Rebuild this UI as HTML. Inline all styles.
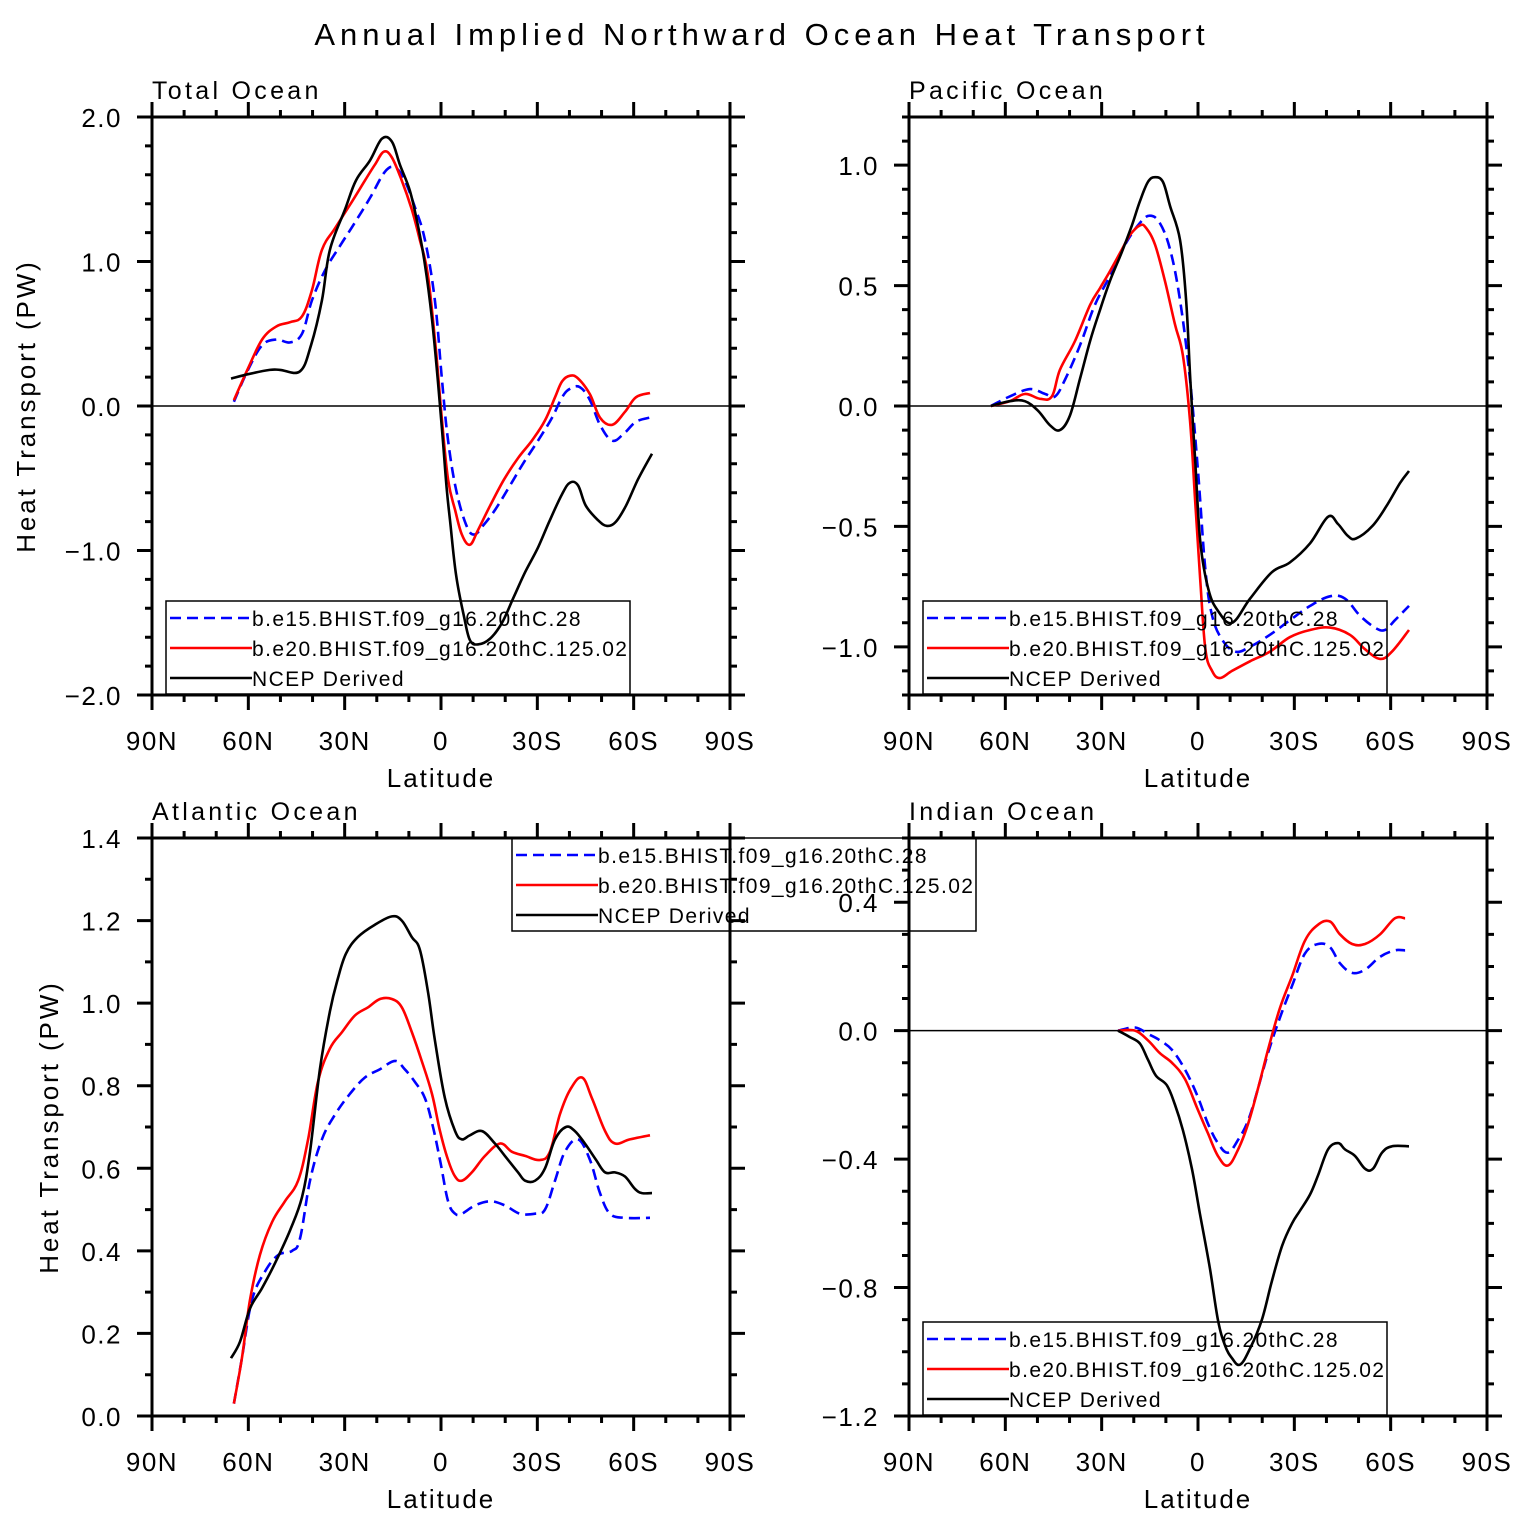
<!DOCTYPE html>
<html><head><meta charset="utf-8"><style>
body{margin:0;background:#fff;}
svg text{font-family:"Liberation Sans",sans-serif;fill:#000;}
</style></head><body>
<svg id="chart" width="1524" height="1527" viewBox="0 0 1524 1527" xmlns="http://www.w3.org/2000/svg">
<text x="762" y="45" text-anchor="middle" font-size="31" letter-spacing="5">Annual Implied Northward Ocean Heat Transport</text>
</svg>
<script>
// ---- data (latitude: + north, - south) ----
const totBlackLat=[65.4,60.1,53.3,50.1,43.9,40.5,37.1,34.6,29.9,26.5,22.1,18.4,15.3,12.8,9.7,7.2,5.0,2.8,1.0,-0.6,-1.8,-2.8,-4.7,-7.2,-9.0,-11.5,-15.3,-19.0,-22.7,-26.2,-30.2,-33.9,-37.7,-40.2,-42.7,-45.1,-48.9,-51.7,-54.5,-57.6,-61.3,-65.7];
const totBlackVal=[0.19,0.22,0.25,0.25,0.24,0.42,0.73,1.08,1.36,1.56,1.70,1.85,1.83,1.67,1.49,1.25,0.98,0.60,0.18,-0.24,-0.58,-0.79,-1.17,-1.46,-1.62,-1.65,-1.61,-1.50,-1.32,-1.15,-0.98,-0.79,-0.61,-0.53,-0.55,-0.69,-0.79,-0.83,-0.80,-0.69,-0.51,-0.33];
const totRedLat=[64.5,60.1,55.7,51.3,47.0,43.3,40.2,37.1,33.0,28.4,23.7,20.6,17.8,15.3,12.2,9.1,6.6,4.1,1.6,-0.3,-2.2,-4.4,-6.5,-9.0,-11.5,-15.3,-19.6,-24.0,-28.3,-32.4,-35.5,-37.7,-40.2,-42.7,-46.4,-49.5,-53.3,-57.3,-60.7,-65.1];
const totRedVal=[0.04,0.26,0.46,0.55,0.58,0.62,0.80,1.08,1.23,1.39,1.56,1.67,1.76,1.72,1.56,1.36,1.15,0.91,0.39,-0.10,-0.51,-0.72,-0.89,-0.96,-0.86,-0.69,-0.51,-0.36,-0.24,-0.10,0.06,0.17,0.21,0.19,0.08,-0.08,-0.13,-0.04,0.06,0.09];
const totBlueLat=[64.5,60.1,55.7,51.3,47.0,43.3,40.2,36.1,31.4,26.8,22.1,17.5,14.3,11.3,8.2,5.0,1.9,-0.3,-2.2,-4.7,-7.8,-10.3,-13.4,-17.1,-21.5,-25.8,-30.2,-34.6,-37.7,-40.2,-43.3,-46.4,-49.5,-53.3,-57.0,-60.7,-65.1];
const totBlueVal=[0.03,0.25,0.42,0.46,0.44,0.50,0.73,0.94,1.11,1.27,1.44,1.62,1.65,1.56,1.38,1.15,0.73,0.18,-0.24,-0.58,-0.82,-0.89,-0.82,-0.71,-0.55,-0.39,-0.24,-0.08,0.06,0.12,0.13,0.04,-0.13,-0.24,-0.19,-0.11,-0.08];

const pacBlackLat=[64.5,58.6,53.9,49.8,46.1,43.0,39.9,36.8,33.6,30.5,27.4,23.7,20.6,18.1,15.6,13.4,10.9,8.7,5.6,3.7,2.4,0.9,-0.7,-3.2,-6.2,-10.6,-16.2,-23.0,-28.6,-34.9,-40.5,-43.6,-46.7,-49.2,-54.2,-58.5,-62.9,-65.7];
const pacBlackVal=[0.0,0.02,0.02,-0.02,-0.08,-0.10,-0.04,0.11,0.27,0.40,0.52,0.64,0.75,0.85,0.93,0.95,0.93,0.83,0.69,0.44,0.11,-0.22,-0.56,-0.76,-0.85,-0.90,-0.80,-0.69,-0.65,-0.57,-0.46,-0.49,-0.54,-0.55,-0.50,-0.42,-0.32,-0.27];
const pacRedLat=[64.5,58.6,53.9,49.2,45.5,43.0,38.3,33.6,30.5,27.4,23.7,21.2,18.1,16.2,13.4,10.3,7.2,4.7,2.5,0.9,-0.7,-2.3,-4.4,-6.8,-10.6,-16.2,-22.4,-28.6,-34.9,-41.1,-47.3,-52.0,-56.7,-60.4,-65.7];
const pacRedVal=[0.0,0.02,0.05,0.03,0.04,0.15,0.27,0.42,0.49,0.56,0.65,0.71,0.75,0.74,0.67,0.52,0.34,0.21,-0.06,-0.39,-0.72,-1.01,-1.10,-1.13,-1.10,-1.06,-1.02,-0.96,-0.93,-0.92,-0.95,-1.01,-1.05,-1.02,-0.93];
const pacBlueLat=[64.5,58.6,52.3,47.6,44.5,41.4,36.8,32.1,27.4,22.7,18.1,15.0,11.9,8.7,5.6,2.5,0.0,-2.3,-4.4,-7.5,-11.6,-16.2,-22.4,-28.6,-34.9,-41.1,-45.8,-50.4,-55.1,-58.2,-61.3,-65.7];
const pacBlueVal=[0.0,0.04,0.07,0.05,0.04,0.11,0.25,0.42,0.54,0.67,0.76,0.79,0.76,0.65,0.44,0.11,-0.27,-0.68,-0.87,-0.97,-1.02,-1.00,-0.95,-0.89,-0.83,-0.79,-0.80,-0.87,-0.92,-0.93,-0.89,-0.83];

const atlBlackLat=[65.4,62.6,59.5,55.7,51.7,47.0,43.3,40.8,37.7,34.6,32.1,29.6,25.9,20.6,15.3,12.2,9.1,6.6,4.1,1.9,-1.2,-4.4,-6.5,-9.0,-12.8,-16.8,-19.9,-24.0,-26.2,-29.3,-32.4,-35.5,-38.9,-41.7,-44.8,-48.3,-51.1,-54.2,-57.3,-60.4,-62.6,-65.7];
const atlBlackVal=[0.14,0.18,0.26,0.31,0.37,0.45,0.53,0.64,0.84,0.98,1.06,1.12,1.16,1.19,1.21,1.20,1.16,1.13,1.03,0.91,0.77,0.69,0.67,0.68,0.69,0.66,0.63,0.59,0.57,0.57,0.60,0.67,0.70,0.69,0.66,0.62,0.59,0.59,0.58,0.55,0.54,0.54];
const atlRedLat=[64.5,62.0,59.5,56.4,52.6,48.6,44.5,41.4,38.3,34.6,30.8,26.8,22.7,19.0,15.3,12.2,9.1,6.0,2.8,0.3,-2.2,-4.4,-6.5,-9.6,-13.7,-18.4,-22.1,-26.2,-30.8,-33.9,-37.0,-40.2,-43.9,-47.0,-51.1,-54.2,-58.8,-65.1];
const atlRedVal=[0.03,0.14,0.28,0.39,0.47,0.52,0.57,0.67,0.81,0.89,0.93,0.97,0.99,1.01,1.01,0.99,0.93,0.86,0.78,0.69,0.62,0.58,0.57,0.59,0.63,0.66,0.64,0.63,0.62,0.64,0.73,0.79,0.82,0.77,0.69,0.66,0.67,0.68];
const atlBlueLat=[64.5,62.0,58.9,54.8,50.7,46.4,43.9,40.8,37.1,33.0,28.4,23.7,19.0,14.3,11.3,8.2,5.0,2.5,0.3,-2.2,-4.4,-6.5,-10.6,-15.3,-19.9,-24.6,-29.3,-32.4,-35.5,-38.6,-42.7,-46.4,-49.5,-52.6,-57.3,-65.1];
const atlBlueVal=[0.03,0.14,0.28,0.35,0.39,0.40,0.43,0.57,0.67,0.73,0.78,0.82,0.84,0.86,0.84,0.81,0.77,0.70,0.62,0.52,0.49,0.49,0.51,0.52,0.51,0.49,0.49,0.50,0.57,0.64,0.67,0.62,0.54,0.49,0.48,0.48];

const indBlackLat=[24.9,21.2,18.1,15.6,13.1,9.7,7.2,4.7,1.9,-0.6,-3.7,-6.2,-8.4,-10.6,-13.1,-16.2,-19.9,-23.0,-26.2,-29.3,-31.8,-34.9,-37.4,-40.5,-43.6,-45.8,-48.9,-52.0,-54.5,-57.3,-60.4,-65.7];
const indBlackVal=[0,-0.02,-0.04,-0.09,-0.14,-0.17,-0.23,-0.31,-0.43,-0.57,-0.74,-0.90,-0.98,-1.02,-1.04,-0.99,-0.90,-0.78,-0.67,-0.60,-0.56,-0.51,-0.45,-0.37,-0.35,-0.37,-0.39,-0.43,-0.43,-0.38,-0.36,-0.36];
const indRedLat=[24.9,19.6,15.6,11.9,8.1,4.1,0.3,-3.1,-6.2,-9.3,-12.5,-15.6,-18.7,-21.8,-25.5,-29.3,-33.3,-37.4,-41.1,-44.2,-48.0,-52.0,-56.7,-61.3,-64.5];
const indRedVal=[0,0,-0.03,-0.07,-0.10,-0.15,-0.24,-0.32,-0.39,-0.42,-0.37,-0.29,-0.18,-0.06,0.07,0.17,0.28,0.33,0.34,0.30,0.27,0.27,0.30,0.35,0.35];
const indBlueLat=indRedLat;
const indBlueVal=[0,0.01,-0.01,-0.03,-0.06,-0.12,-0.20,-0.29,-0.35,-0.38,-0.34,-0.28,-0.18,-0.07,0.04,0.14,0.24,0.27,0.26,0.21,0.18,0.19,0.23,0.25,0.25];

const xTickLabels=["90N","60N","30N","0","30S","60S","90S"];
const legendLabels=["b.e15.BHIST.f09_g16.20thC.28","b.e20.BHIST.f09_g16.20thC.125.02","NCEP Derived"];

const panels=[
 {name:"total-ocean",title:"Total Ocean",x0:152,y0:117,ymin:-2,ymax:2,major:1,minor:0.2,dec:1,zero:true,ylab:true,
  series:[[totBlueLat,totBlueVal],[totRedLat,totRedVal],[totBlackLat,totBlackVal]],leg:[166,601]},
 {name:"pacific-ocean",title:"Pacific Ocean",x0:909,y0:117,ymin:-1.2,ymax:1.2,major:0.5,minor:0.1,dec:1,zero:true,ylab:false,
  series:[[pacBlueLat,pacBlueVal],[pacRedLat,pacRedVal],[pacBlackLat,pacBlackVal]],leg:[923,601]},
 {name:"atlantic-ocean",title:"Atlantic Ocean",x0:152,y0:838,ymin:0,ymax:1.4,major:0.2,minor:0.1,dec:1,zero:false,ylab:true,
  series:[[atlBlueLat,atlBlueVal],[atlRedLat,atlRedVal],[atlBlackLat,atlBlackVal]],leg:[512,838]},
 {name:"indian-ocean",title:"Indian Ocean",x0:909,y0:838,ymin:-1.2,ymax:0.6,major:0.4,minor:0.1,dec:1,zero:true,ylab:false,
  series:[[indBlueLat,indBlueVal],[indRedLat,indRedVal],[indBlackLat,indBlackVal]],leg:[923,1322]}
];
const W=578,H=578;
const colors=["#0000ff","#ff0000","#000000"];
const dashes=["11,6","",""];
const svg=document.getElementById('chart');
const NS="http://www.w3.org/2000/svg";
function mk(tag,attrs,parent){const e=document.createElementNS(NS,tag);for(const k in attrs)e.setAttribute(k,attrs[k]);(parent||svg).appendChild(e);return e;}
function fmt(v,d){let s=Math.abs(v).toFixed(d);return (v<-1e-9?"\u2212":"")+s;}
function smooth(pts){
 let d='M'+pts[0][0].toFixed(1)+','+pts[0][1].toFixed(1);
 for(let i=0;i<pts.length-1;i++){
  const p0=pts[Math.max(0,i-1)],p1=pts[i],p2=pts[i+1],p3=pts[Math.min(pts.length-1,i+2)];
  const t=0.18;
  const c1=[p1[0]+(p2[0]-p0[0])*t,p1[1]+(p2[1]-p0[1])*t];
  const c2=[p2[0]-(p3[0]-p1[0])*t,p2[1]-(p3[1]-p1[1])*t];
  d+='C'+c1[0].toFixed(1)+','+c1[1].toFixed(1)+' '+c2[0].toFixed(1)+','+c2[1].toFixed(1)+' '+p2[0].toFixed(1)+','+p2[1].toFixed(1);
 }
 return d;
}

panels.forEach(p=>{
 const g=mk('g',{});
 
 
 const X=lat=>p.x0+(90-lat)/180*W;
 const Y=v=>p.y0+(p.ymax-v)/(p.ymax-p.ymin)*H;
 const t=mk('text',{x:p.x0,y:p.y0-18,'font-size':25,'letter-spacing':3.3},g);t.textContent=p.title;
 
 
 let tk='';
 for(let lat=-90;lat<=90;lat+=10){const x=X(lat);const L=(lat%30===0)?15:7;
  tk+=`M${x},${p.y0+H}v${L}M${x},${p.y0}v${-L}`;}
 const nMin=Math.round((p.ymax-p.ymin)/p.minor);
 for(let i=0;i<=nMin;i++){const v=p.ymin+i*p.minor;const r=v/p.major;const isM=Math.abs(r-Math.round(r))<1e-6;const y=Y(v);const L=isM?15:7;
  tk+=`M${p.x0},${y}h${-L}M${p.x0+W},${y}h${L}`;
  if(isM){const tl=mk('text',{x:p.x0-30,y:y+10,'font-size':26,'text-anchor':'end','letter-spacing':1.5},g);tl.textContent=fmt(v,p.dec);
   
   }}
 const tp=mk('path',{d:tk,stroke:'#000','stroke-width':3,fill:'none'},g);
 
 
 xTickLabels.forEach((s,i)=>{const tl=mk('text',{x:X(90-i*30),y:p.y0+H+55,'font-size':26,'text-anchor':'middle','letter-spacing':1.5},g);tl.textContent=s;
  
  });
 const xl=mk('text',{x:p.x0+W/2,y:p.y0+H+92,'font-size':26,'text-anchor':'middle','letter-spacing':2},g);xl.textContent="Latitude";
 
 
 if(p.ylab){const yl=mk('text',{x:0,y:0,'font-size':26,'text-anchor':'middle','letter-spacing':2.9,transform:`translate(${p.y0===838?58:35},${p.y0+H/2}) rotate(-90)`},g);yl.textContent="Heat Transport (PW)";
  
  }
 if(p.zero){const z=mk('line',{x1:p.x0,x2:p.x0+W,y1:Y(0),y2:Y(0),stroke:'#000','stroke-width':1.5},g);
  
  }
 p.series.forEach((s,i)=>{const pts=s[0].map((la,j)=>[X(la),Y(s[1][j])]);
  const pl=mk('path',{d:smooth(pts),stroke:colors[i],'stroke-width':2.6,fill:'none','stroke-dasharray':dashes[i],'stroke-linejoin':'round'},g);
  
  });
 const fr=mk('rect',{x:p.x0,y:p.y0,width:W,height:H,fill:'none',stroke:'#000','stroke-width':3},g);
 
 
 const lg=mk('g',{},svg);
 
 
 const [lx,ly]=p.leg;
 mk('rect',{x:lx,y:ly,width:464,height:93,fill:'none',stroke:'#000','stroke-width':1.5},lg);
 legendLabels.forEach((s,i)=>{const yy=ly+17+i*30;
  mk('line',{x1:lx+4,x2:lx+86,y1:yy,y2:yy,stroke:colors[i],'stroke-width':2.6,'stroke-dasharray':dashes[i]},lg);
  const tl=mk('text',{x:lx+86,y:yy+8,'font-size':21,'letter-spacing':1.4},lg);tl.textContent=s;
  
  });
});
</script>
</body></html>
